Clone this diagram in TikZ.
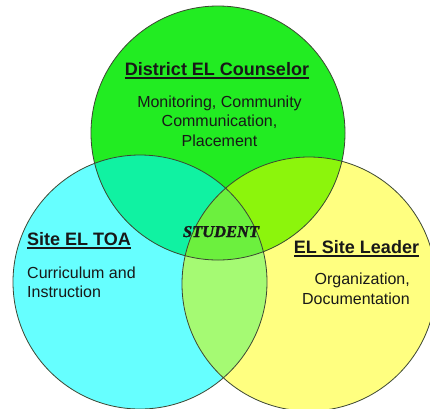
\documentclass[tikz,border=0pt]{standalone}
\usepackage{fontspec}
\setmainfont{Liberation Sans}
\newfontfamily\studentfont[BoldItalicFeatures={FakeBold=1.6}]{Liberation Serif}

% underline drawn as a heavier rule just below the baseline
\newcommand{\heavyul}[1]{\leavevmode\setbox0\hbox{#1}\rlap{\vrule height -1.9pt depth 3.6pt width \wd0}\box0}

\definecolor{greenfill}{RGB}{34,236,34}
\definecolor{cyanfill}{RGB}{102,255,255}
\definecolor{yellowfill}{RGB}{255,255,128}
\definecolor{gcfill}{RGB}{16,242,162}
\definecolor{gyfill}{RGB}{140,245,12}
\definecolor{cyfill}{RGB}{165,250,115}
\definecolor{allfill}{RGB}{108,240,62}
\definecolor{rim}{RGB}{60,70,50}
\definecolor{ink}{RGB}{24,24,24}

\tikzset{
  rimline/.style={draw=rim, line width=0.8pt},
  title/.style={font=\fontsize{18}{20}\selectfont\bfseries, text=ink, inner sep=0pt, anchor=base},
  body/.style={font=\fontsize{16}{20}\selectfont, text=ink, inner sep=0pt, anchor=base},
  center label/.style={font=\fontsize{16.5}{20}\selectfont\studentfont\bfseries\itshape, text=ink, inner sep=0pt, anchor=base}
}

\begin{document}
\begin{tikzpicture}[x=1pt,y=-1pt]
\useasboundingbox (0,0) rectangle (430,408);
\fill[white] (0,0) rectangle (430,408);

\coordinate (G) at (218,133);
\coordinate (C) at (140,282);
\coordinate (Y) at (309,284);
\def\rad{127pt}

% base discs
\fill[cyanfill] (C) circle (\rad);
\fill[yellowfill] (Y) circle (\rad);
\fill[greenfill] (G) circle (\rad);

% pairwise overlaps
\begin{scope}
  \clip (G) circle (\rad);
  \fill[gcfill] (C) circle (\rad);
  \fill[gyfill] (Y) circle (\rad);
\end{scope}
\begin{scope}
  \clip (C) circle (\rad);
  \fill[cyfill] (Y) circle (\rad);
\end{scope}
% triple overlap
\begin{scope}
  \clip (G) circle (\rad);
  \clip (C) circle (\rad);
  \fill[allfill] (Y) circle (\rad);
\end{scope}

% outlines
\draw[rimline] (C) circle (\rad);
\draw[rimline] (Y) circle (\rad);
\draw[rimline] (G) circle (\rad);

% District EL Counselor
\node[title] (dtitle) at (217,75) {\heavyul{District EL Counselor}};
\node[body] (d1) at (219.5,107) {Monitoring, Community};
\node[body] (d2) at (219.5,126.5) {Communication,};
\node[body] (d3) at (219.5,146) {Placement};

% Site EL TOA
\node[title, anchor=base west] (stitle) at (27,245.5) {\heavyul{Site EL TOA}};
\node[body, anchor=base west] (s1) at (27,278) {Curriculum and};
\node[body, anchor=base west] (s2) at (27,297.5) {Instruction};

% EL Site Leader
\node[title] (ltitle) at (356.5,253.5) {\heavyul{EL Site Leader}};
\node[body, anchor=base east] (l1) at (410,284.5) {Organization,};
\node[body, anchor=base east] (l2) at (410,304.5) {Documentation};

% centre
\node[center label] (student) at (221,237) {STUDENT};
\end{tikzpicture}
\end{document}
